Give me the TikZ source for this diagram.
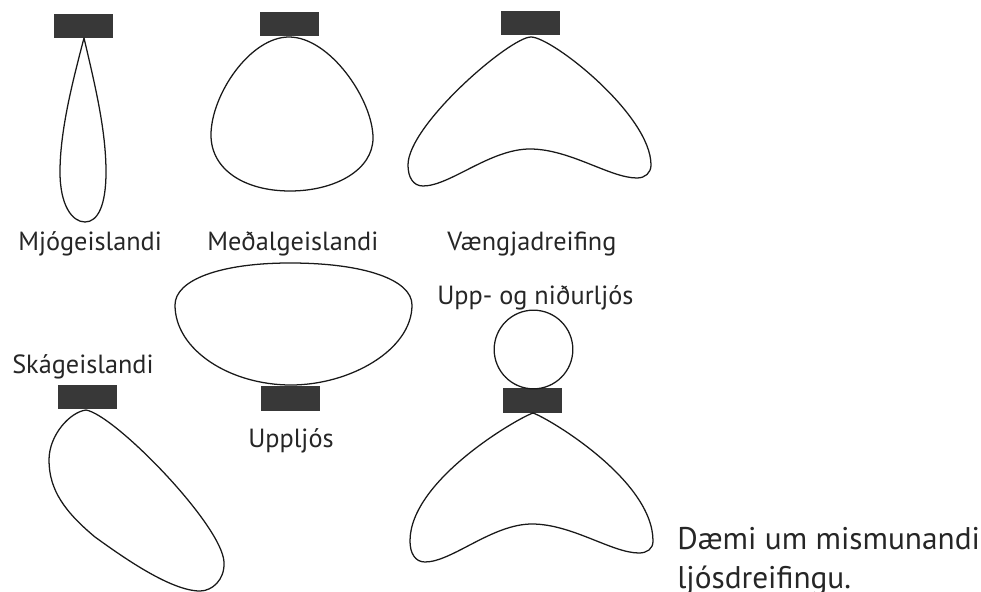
\documentclass[tikz,border=0pt]{standalone}
\usepackage{fontspec}
\setmainfont{PT Sans}
\definecolor{ink}{gray}{0.15}
\tikzset{
  lamp/.style={fill=black!78,draw=none,minimum width=44.25pt,minimum height=18.4pt,inner sep=0pt},
  lobe/.style={draw=black!90,line width=0.95pt,line join=round},
  lbl/.style={inner sep=0pt,anchor=base west,text=ink,font=\fontsize{19.7}{22}\selectfont},
  big/.style={inner sep=0pt,anchor=base west,text=ink,font=\fontsize{23.5}{26}\selectfont}
}
\begin{document}
\begin{tikzpicture}[x=0.75pt,y=-0.75pt]
\useasboundingbox (0,0) rectangle (981,592);
\node[lamp] (l1) at (83.2,26.2) {};
\node[lamp] (l2) at (289,24) {};
\node[lamp] (l3) at (530.2,23) {};
\node[lamp] (l4) at (290.5,398.5) {};
\node[lamp] (l5) at (87.5,397.2) {};
\node[lamp] (l6) at (532.5,400.5) {};
% narrow
\draw[lobe] (84,38) .. controls (73,80) and (60,130) .. (60,172) .. controls (60,205) and (72,222) .. (85,222) .. controls (98,222) and (106,205) .. (106,172) .. controls (106,130) and (95,85) .. (84,38) -- cycle;
% medium
\draw[lobe] (289,37) .. controls (330,37) and (373,100) .. (373,138) .. controls (373,170) and (335,191) .. (290,191) .. controls (245,191) and (211,170) .. (211,135) .. controls (211,95) and (250,37) .. (289,37) -- cycle;
% wing
\draw[lobe] (531,37) .. controls (552,37) and (651,115) .. (651,165) .. controls (651,173) and (645,178) .. (637,178) .. controls (610,178) and (570,149) .. (530,149) .. controls (490,149) and (450,186) .. (423,186) .. controls (413,186) and (408,177) .. (408,165) .. controls (408,125) and (510,37) .. (531,37) -- cycle;
% uplight
\draw[lobe] (291,385) .. controls (230,385) and (175,350) .. (175,305) .. controls (175,280) and (220,263) .. (290,263) .. controls (365,263) and (412,280) .. (412,305) .. controls (412,350) and (350,385) .. (291,385) -- cycle;
% circle
\node[draw=black!90,line width=0.95pt,circle,minimum size=59pt,inner sep=0pt] (c) at (533.5,349.5) {};
% wing 2
\draw[lobe] (533,413) .. controls (548,418) and (653,480) .. (653,541) .. controls (653,549) and (647,553) .. (639,553) .. controls (612,553) and (572,524) .. (532,524) .. controls (492,524) and (452,562) .. (425,562) .. controls (415,562) and (410,553) .. (410,541) .. controls (410,480) and (518,418) .. (533,413) -- cycle;
% skew
\draw[lobe] (86,410) .. controls (115,415) and (222,525) .. (224,562) .. controls (225,580) and (212,591) .. (200,591) .. controls (170,591) and (120,555) .. (95,537) .. controls (65,512) and (49,490) .. (49,460) .. controls (49,435) and (70,412) .. (86,410) -- cycle;
\node[lbl] (t1) at (18,250) {Mjógeislandi};
\node[lbl] (t2) at (207,250) {Meðalgeislandi};
\node[lbl] (t3) at (447,250) {Vængjadreifing};
\node[lbl] (t4) at (437,304) {Upp- og niðurljós};
\node[lbl] (t5) at (12,373) {Skágeislandi};
\node[lbl] (t6) at (248,447) {Uppljós};
\node[big] (t7) at (677,549) {Dæmi um mismunandi};
\node[big] (t8) at (677,588) {ljósdreifingu.};
\end{tikzpicture}
\end{document}
